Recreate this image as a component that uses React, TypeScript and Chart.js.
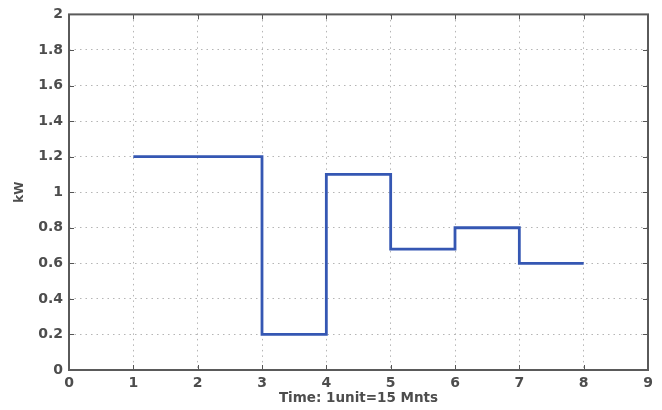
import React, { useEffect, useRef } from "react";
import { Chart, registerables } from "chart.js";

Chart.register(...registerables);

// Step boundaries (time units) and the level held from each boundary to the next
const stepX = [1, 3, 4, 5, 6, 7, 8];
const stepKW = [1.2, 0.2, 1.1, 0.68, 0.8, 0.6, 0.6];
const xTickValues = [0, 1, 2, 3, 4, 5, 6, 7, 8, 9];
const yTickValues = [0, 0.2, 0.4, 0.6, 0.8, 1, 1.2, 1.4, 1.6, 1.8, 2];
const xTitle = "Time: 1unit=15 Mnts";
const yTitle = "kW";

const FONT = "'DejaVu Sans', Verdana, sans-serif";
const TEXT = "#4d4d4d";

const boxPlugin = {
  id: "matlabBox",
  afterDraw(chart: any) {
    const { ctx, chartArea: a, scales } = chart;
    ctx.save();
    ctx.strokeStyle = "#555555";
    ctx.lineWidth = 1;
    const tl = 5;
    ctx.beginPath();
    for (const v of xTickValues) {
      const x = Math.round(scales.x.getPixelForValue(v)) + 0.5;
      ctx.moveTo(x, a.bottom);
      ctx.lineTo(x, a.bottom - tl);
      ctx.moveTo(x, a.top);
      ctx.lineTo(x, a.top + tl);
    }
    for (const v of yTickValues) {
      const y = Math.round(scales.y.getPixelForValue(v)) + 0.5;
      ctx.moveTo(a.left, y);
      ctx.lineTo(a.left + tl, y);
      ctx.moveTo(a.right, y);
      ctx.lineTo(a.right - tl, y);
    }
    ctx.stroke();
    ctx.lineWidth = 2;
    ctx.strokeStyle = "#5a5a5a";
    ctx.strokeRect(a.left, a.top, a.right - a.left, a.bottom - a.top);
    ctx.restore();
  },
};

export default function App() {
  const ref = useRef<HTMLCanvasElement | null>(null);
  useEffect(() => {
    document.body.style.margin = "0";
    const canvas = ref.current!;
    const chart = new Chart(canvas, {
      type: "line",
      data: {
        datasets: [
          {
            data: stepX.map((x, i) => ({ x, y: stepKW[i] })),
            stepped: "before",
            borderColor: "#3557b3",
            borderWidth: 2.8,
            pointRadius: 0,
            fill: false,
          },
        ],
      },
      options: {
        animation: false,
        responsive: false,
        maintainAspectRatio: false,
        layout: { padding: { left: 0, right: 14, top: 12, bottom: 0 } },
        plugins: { legend: { display: false }, tooltip: { enabled: false } },
        scales: {
          x: {
            type: "linear",
            min: 0,
            max: 9,
            afterBuildTicks: (s: any) => {
              s.ticks = xTickValues.map((value) => ({ value }));
            },
            afterFit: (s: any) => {
              s.height = 40;
            },
            ticks: {
              color: TEXT,
              font: { family: FONT, size: 14, weight: "bold" },
              padding: 5,
              maxRotation: 0,
              autoSkip: false,
              callback: (v: any) => String(v),
            },
            grid: { color: "#b5b5b5", lineWidth: 1, drawTicks: false },
            border: { display: false, dash: [1.5, 4] },
            title: {
              display: true,
              text: xTitle,
              color: TEXT,
              font: { family: FONT, size: 13.5, weight: "bold" },
              padding: { top: 0, bottom: 3 },
            },
          },
          y: {
            type: "linear",
            min: 0,
            max: 2,
            afterBuildTicks: (s: any) => {
              s.ticks = yTickValues.map((value) => ({ value }));
            },
            afterFit: (s: any) => {
              s.width = 69;
            },
            ticks: {
              color: TEXT,
              font: { family: FONT, size: 14, weight: "bold" },
              padding: 6,
              autoSkip: false,
              callback: (v: any) => String(Number(Number(v).toFixed(1))),
            },
            grid: { color: "#b5b5b5", lineWidth: 1, drawTicks: false },
            border: { display: false, dash: [1.5, 4] },
            title: {
              display: true,
              text: yTitle,
              color: TEXT,
              font: { family: FONT, size: 12, weight: "bold" },
              padding: { top: 13, bottom: 0 },
            },
          },
        },
      },
      plugins: [boxPlugin],
    });
    return () => chart.destroy();
  }, []);
  return (
    <div style={{ width: 662, height: 410, background: "#fff" }}>
      <canvas ref={ref} width={662} height={410} style={{ display: "block" }} />
    </div>
  );
}
